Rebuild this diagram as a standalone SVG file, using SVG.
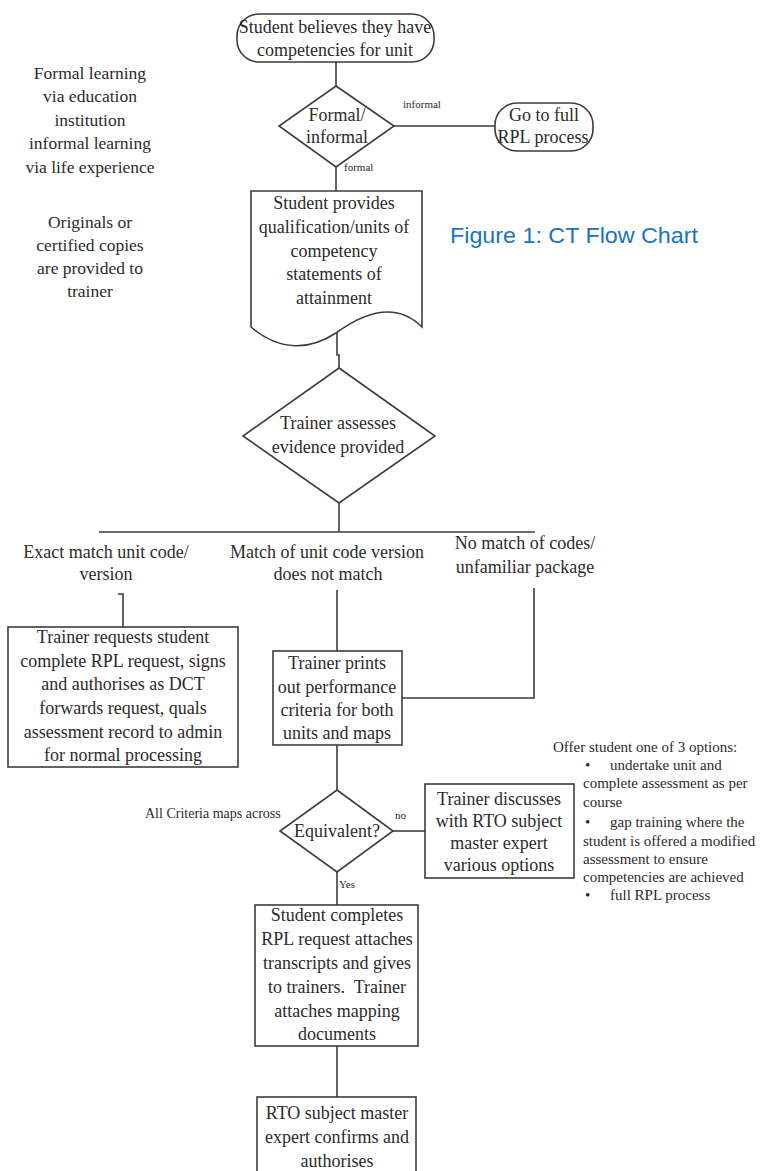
<svg xmlns="http://www.w3.org/2000/svg" width="760" height="1171" viewBox="0 0 760 1171">
<style>
  .shape{fill:#fff;stroke:#3c3c3c;stroke-width:1.6}
  .conn{fill:none;stroke:#3c3c3c;stroke-width:1.6}
  .t{font-family:"Liberation Serif","Times New Roman",serif;font-size:18px;fill:#2b2b2b;text-anchor:middle}
  .s{font-family:"Liberation Serif","Times New Roman",serif;font-size:11px;fill:#2b2b2b}
  .r{font-family:"Liberation Serif","Times New Roman",serif;font-size:15px;fill:#2b2b2b}
  .side{font-family:"Liberation Serif","Times New Roman",serif;font-size:17.5px;fill:#2b2b2b;text-anchor:middle}
  .cap{font-family:"Liberation Sans",Arial,sans-serif;font-size:22px;fill:#1a73c4}
</style>
<rect width="760" height="1171" fill="#fff"/>

<g id="connectors">
  <line class="conn" x1="336" y1="62" x2="336" y2="86"/>
  <line class="conn" x1="394" y1="126" x2="495" y2="126"/>
  <line class="conn" x1="336" y1="167" x2="336" y2="191"/>
  <path class="conn" d="M337,333 V355 H339 V368"/>
  <line class="conn" x1="339" y1="503" x2="339" y2="532"/>
  <line class="conn" x1="99" y1="532" x2="535" y2="532"/>
  <path class="conn" d="M118,594 H123 V627"/>
  <line class="conn" x1="337" y1="590" x2="337" y2="651"/>
  <path class="conn" d="M534,588 V698 H402"/>
  <line class="conn" x1="337" y1="745" x2="337" y2="790"/>
  <line class="conn" x1="393" y1="831" x2="425" y2="831"/>
  <line class="conn" x1="337" y1="872" x2="337" y2="905"/>
  <line class="conn" x1="337" y1="1046" x2="337" y2="1097"/>
</g>

<g id="start">
  <rect class="shape" x="237" y="14" width="197" height="48" rx="22" ry="22"/>
  <text class="t" x="335" y="33">Student believes they have</text>
  <text class="t" x="335" y="56">competencies for unit</text>
</g>

<g id="formal-informal">
  <polygon class="shape" points="336,86 394,126 336,167 279,126"/>
  <text class="t" x="337" y="121">Formal/</text>
  <text class="t" x="337" y="143">informal</text>
</g>

<g id="full-rpl">
  <rect class="shape" x="495" y="103" width="98" height="48" rx="22" ry="22"/>
  <text class="t" x="544" y="121">Go to full</text>
  <text class="t" x="543" y="143">RPL process</text>
</g>

<g id="labels-top">
  <text class="s" x="403" y="108">informal</text>
  <text class="s" x="344" y="171">formal</text>
</g>

<g id="side-notes">
  <text class="side" x="90" y="79">Formal learning</text>
  <text class="side" x="90" y="102">via education</text>
  <text class="side" x="90" y="126">institution</text>
  <text class="side" x="90" y="149">informal learning</text>
  <text class="side" x="90" y="173">via life experience</text>
  <text class="side" x="90" y="228">Originals or</text>
  <text class="side" x="90" y="251">certified copies</text>
  <text class="side" x="90" y="274">are provided to</text>
  <text class="side" x="90" y="297">trainer</text>
</g>

<g id="caption">
  <text class="cap" x="450" y="243" textLength="248" lengthAdjust="spacingAndGlyphs">Figure 1: CT Flow Chart</text>
</g>

<g id="document">
  <path class="shape" d="M251,191 H422 V327 C395,300 362,314 336,333 C310,350 280,352 251,327 Z"/>
  <text class="t" x="334" y="209">Student provides</text>
  <text class="t" x="334" y="233">qualification/units of</text>
  <text class="t" x="334" y="257">competency</text>
  <text class="t" x="334" y="280">statements of</text>
  <text class="t" x="334" y="304">attainment</text>
</g>

<g id="assess">
  <polygon class="shape" points="339,368 435,436 339,503 243,436"/>
  <text class="t" x="338" y="429">Trainer assesses</text>
  <text class="t" x="338" y="453">evidence provided</text>
</g>

<g id="branch-labels">
  <text class="t" x="106" y="558">Exact match unit code/</text>
  <text class="t" x="106" y="580">version</text>
  <text class="t" x="327" y="558">Match of unit code version</text>
  <text class="t" x="328" y="580">does not match</text>
  <text class="t" x="525" y="549">No match of codes/</text>
  <text class="t" x="525" y="573">unfamiliar package</text>
</g>

<g id="exact-match">
  <rect class="shape" x="8" y="627" width="230" height="140"/>
  <text class="t" x="123" y="643">Trainer requests student</text>
  <text class="t" x="123" y="667">complete RPL request, signs</text>
  <text class="t" x="123" y="690">and authorises as DCT</text>
  <text class="t" x="123" y="714">forwards request, quals</text>
  <text class="t" x="123" y="738">assessment record to admin</text>
  <text class="t" x="123" y="761">for normal processing</text>
</g>

<g id="prints">
  <rect class="shape" x="273" y="651" width="129" height="94"/>
  <text class="t" x="337" y="669">Trainer prints</text>
  <text class="t" x="337" y="693">out performance</text>
  <text class="t" x="337" y="716">criteria for both</text>
  <text class="t" x="337" y="739">units and maps</text>
</g>

<g id="equivalent">
  <polygon class="shape" points="337,790 393,831 337,872 280,831"/>
  <text class="t" x="337" y="837">Equivalent?</text>
</g>

<g id="labels-eq">
  <text class="r" x="145" y="818" style="font-size:14px">All Criteria maps across</text>
  <text class="s" x="395" y="819">no</text>
  <text class="s" x="339" y="888">Yes</text>
</g>

<g id="discusses">
  <rect class="shape" x="425" y="784" width="149" height="94"/>
  <text class="t" x="499" y="805">Trainer discusses</text>
  <text class="t" x="499" y="827">with RTO subject</text>
  <text class="t" x="499" y="849">master expert</text>
  <text class="t" x="499" y="871">various options</text>
</g>

<g id="options">
  <text class="r" x="553" y="752">Offer student one of 3 options:</text>
  <text class="r" x="585" y="770">•</text>
  <text class="r" x="610" y="770">undertake unit and</text>
  <text class="r" x="583" y="788">complete assessment as per</text>
  <text class="r" x="583" y="807">course</text>
  <text class="r" x="585" y="827">•</text>
  <text class="r" x="610" y="827">gap training where the</text>
  <text class="r" x="583" y="846">student is offered a modified</text>
  <text class="r" x="583" y="864">assessment to ensure</text>
  <text class="r" x="583" y="882">competencies are achieved</text>
  <text class="r" x="585" y="900">•</text>
  <text class="r" x="610" y="900">full RPL process</text>
</g>

<g id="student-completes">
  <rect class="shape" x="255" y="905" width="163" height="141"/>
  <text class="t" x="337" y="921">Student completes</text>
  <text class="t" x="337" y="945">RPL request attaches</text>
  <text class="t" x="337" y="969">transcripts and gives</text>
  <text class="t" x="337" y="993" style="white-space:pre">to trainers.  Trainer</text>
  <text class="t" x="337" y="1017">attaches mapping</text>
  <text class="t" x="337" y="1040">documents</text>
</g>

<g id="confirms">
  <rect class="shape" x="257" y="1097" width="159" height="90"/>
  <text class="t" x="337" y="1119">RTO subject master</text>
  <text class="t" x="337" y="1143">expert confirms and</text>
  <text class="t" x="337" y="1167">authorises</text>
</g>
</svg>
